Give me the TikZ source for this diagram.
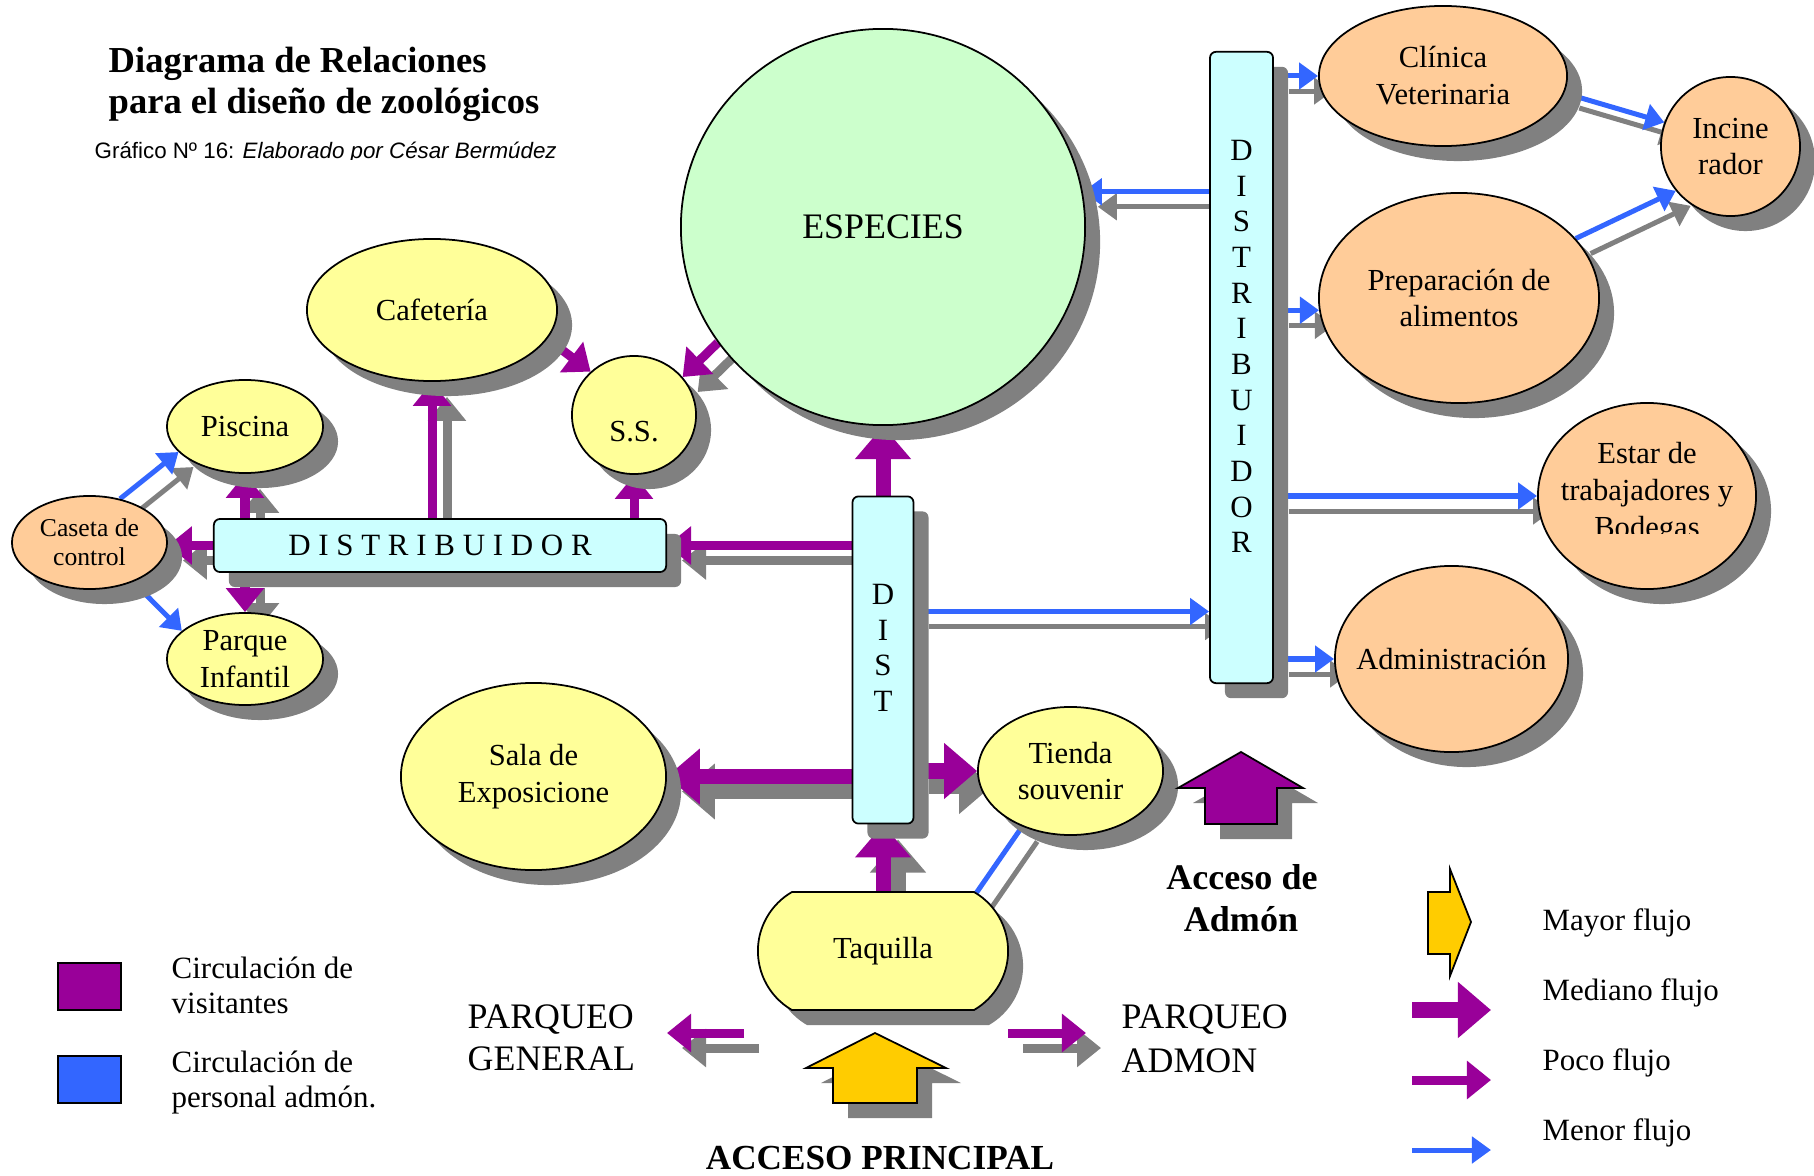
\documentclass[tikz,border=0pt]{standalone}
\usepackage{fontspec}
\setmainfont{Liberation Serif}
\newfontfamily\sansf{Liberation Sans}
\usetikzlibrary{shapes.geometric,shapes.misc,shadows,arrows.meta,calc}
\definecolor{amarillo}{HTML}{FFFF99}
\definecolor{verde}{HTML}{CCFFCC}
\definecolor{naranja}{HTML}{FFCC99}
\definecolor{celeste}{HTML}{CCFFFF}
\definecolor{visita}{HTML}{990099}
\definecolor{admon}{HTML}{3366FF}
\definecolor{gris}{HTML}{808080}
\definecolor{oro}{HTML}{FFCC00}
\pgfdeclarelayer{sombra}
\pgfdeclarelayer{flecha}
\pgfsetlayers{sombra,flecha,main}
\tikzset{
  sombreado/.style={drop shadow={shadow xshift=0.15cm,shadow yshift=-0.15cm,fill=gris,opacity=1}},
  nodo/.style={draw,line width=0.5pt,inner sep=0pt,align=center,font=\fontsize{8.7}{10.5}\selectfont,sombreado},
  zona/.style={nodo,ellipse,fill=amarillo},
  zonaadm/.style={nodo,ellipse,fill=naranja},
  caja/.style={nodo,rectangle,rounded corners=0.06cm,fill=celeste},
  texto/.style={inner sep=0pt,font=\fontsize{8.8}{10.5}\selectfont},
  titulo/.style={texto,font=\bfseries\fontsize{10.4}{12}\selectfont},
  letras/.style={texto,align=center,font=\fontsize{8.8}{10.15}\selectfont},
  mediano/.style={visita,line width=0.15cm,-{Triangle[length=0.33cm,width=0.54cm]}},
  poco/.style={visita,line width=0.09cm,-{Triangle[length=0.24cm,width=0.37cm]}},
  menor/.style={admon,line width=0.05cm,-{Triangle[length=0.19cm,width=0.26cm]}},
  linea/.style={admon,line width=0.05cm},
  sombra/.style={gris,transform canvas={xshift=0.15cm,yshift=-0.15cm}}
}
% flecha con su sombra gris
\newcommand{\flujo}[3]{%
  \begin{pgfonlayer}{sombra}\draw[#1,sombra] (#2) -- (#3);\end{pgfonlayer}%
  \begin{pgfonlayer}{flecha}\draw[#1] (#2) -- (#3);\end{pgfonlayer}}
% flecha sin sombra
\newcommand{\flecha}[3]{%
  \begin{pgfonlayer}{flecha}\draw[#1] (#2) -- (#3);\end{pgfonlayer}}
\begin{document}
\begin{tikzpicture}[x=0.01cm,y=-0.01cm]
\useasboundingbox (0,0) rectangle (1814,1176);
% titulo
\node[titulo,anchor=base west] (tit1) at (108,73) {Diagrama de Relaciones};
\node[titulo,anchor=base west] (tit2) at (108,114) {para el diseño de zoológicos};
\begin{scope}
\clip (0,120) rectangle (700,160);
\node[texto,font=\sansf\fontsize{6.35}{7.5}\selectfont,anchor=base west] (sub) at (94,159) {Gráfico Nº 16: \textit{Elaborado por César Bermúdez}};
\end{scope}
% zonas de visitantes
\node[zona,fill=verde,minimum width=4.04cm,minimum height=3.96cm,font=\fontsize{10.2}{12}\selectfont] (especies) at (883,227) {ESPECIES};
\node[zona,minimum width=2.50cm,minimum height=1.42cm] (cafe) at (432,310) {Cafetería};
\node[zona,minimum width=1.24cm,minimum height=1.18cm,text height=0.54cm] (ss) at (634,415) {S.S.};
\node[zona,minimum width=1.56cm,minimum height=0.93cm] (piscina) at (245,426.5) {Piscina};
\node[zonaadm,minimum width=1.55cm,minimum height=0.93cm,font=\fontsize{7.3}{8.3}\selectfont] (caseta) at (89.5,542.5) {Caseta de\\control};
\node[zona,minimum width=1.56cm,minimum height=0.92cm] (parque) at (245,659) {Parque\\Infantil};
\node[caja,minimum width=4.52cm,minimum height=0.53cm,font=\fontsize{8.8}{10}\selectfont] (distH) at (440,545.5) {D I S T R I B U I D O R};
\node[caja,minimum width=0.61cm,minimum height=3.27cm] (dist) at (883,660) {};
\node[letras] (distT) at (883,648) {D\\I\\S\\T};
\node[zona,minimum width=2.65cm,minimum height=1.87cm] (sala) at (533.5,776.5) {Sala de\\Exposicione};
\node[zona,minimum width=1.85cm,minimum height=1.28cm] (tienda) at (1070.5,771) {Tienda\\souvenir};
\node[nodo,rounded rectangle,rounded rectangle arc length=120,fill=amarillo,minimum width=2.50cm,minimum height=1.18cm] (taquilla) at (883,951) {Taquilla};
% zonas de servicio
\node[caja,minimum width=0.63cm,minimum height=6.31cm] (distv) at (1241.5,367.5) {};
\node[letras] (distvT) at (1241.5,346.5) {D\\I\\S\\T\\R\\I\\B\\U\\I\\D\\O\\R};
\node[zonaadm,minimum width=2.48cm,minimum height=1.40cm] (clinic) at (1443,76) {Clínica\\Veterinaria};
\node[zonaadm,minimum width=1.39cm,minimum height=1.39cm] (incin) at (1730.5,146.5) {Incine\\rador};
\node[zonaadm,minimum width=2.80cm,minimum height=2.10cm] (prep) at (1459,298) {Preparación de\\alimentos};
\node[zonaadm,minimum width=2.18cm,minimum height=1.86cm] (estar) at (1647,496) {};
\begin{scope}
\clip (1530,440) rectangle (1770,533);
\node[texto,align=center,font=\fontsize{8.7}{10.5}\selectfont] (estarT) at (1647,493) {Estar de\\trabajadores y\\Bodegas};
\end{scope}
\node[zonaadm,minimum width=2.33cm,minimum height=1.86cm,inner xsep=-0.15cm] (admin) at (1451.5,659) {Administración};
% accesos
\filldraw[fill=visita,draw=black,line width=0.5pt,sombreado] (1241,752) -- (1303,788) -- (1277,788) -- (1277,824) -- (1205,824) -- (1205,788) -- (1178,788) -- cycle;
\node[titulo,font=\bfseries\fontsize{10.25}{12}\selectfont,anchor=base] (admA) at (1242,889) {Acceso de};
\node[titulo,font=\bfseries\fontsize{10.25}{12}\selectfont,anchor=base] (admB) at (1241,931) {Admón};
\filldraw[fill=oro,draw=black,line width=0.5pt,sombreado] (875,1033) -- (946,1068) -- (917,1068) -- (917,1103) -- (833,1103) -- (833,1068) -- (806,1068) -- cycle;
\node[titulo,font=\bfseries\fontsize{10}{12}\selectfont,anchor=base] (accp) at (880,1169) {ACCESO PRINCIPAL};
\node[texto,font=\fontsize{10.2}{12}\selectfont,anchor=base west] (pgA) at (467,1028) {PARQUEO};
\node[texto,font=\fontsize{10.2}{12}\selectfont,anchor=base west] (pgB) at (467,1070) {GENERAL};
\node[texto,font=\fontsize{10.2}{12}\selectfont,anchor=base west] (paA) at (1121,1028) {PARQUEO};
\node[texto,font=\fontsize{10.2}{12}\selectfont,anchor=base west] (paB) at (1121,1072) {ADMON};
\coordinate (pg1) at (744,1033);
\coordinate (pg2) at (667,1033);
\coordinate (pa1) at (1008,1033);
\coordinate (pa2) at (1086,1033);
\coordinate (d1) at ($(dist.north east)+(0,116)$);
% circulacion de visitantes
\flecha{mediano}{dist.north}{especies.south}
\flujo{mediano}{taquilla.north}{dist.south}
\flujo{mediano}{dist.west |- sala.east}{sala.east}
\flujo{mediano}{dist.east |- tienda.west}{tienda.west}
\flujo{poco}{dist.west |- distH.east}{distH.east}
\flujo{poco}{distH.north -| cafe.south}{cafe.south}
\flecha{poco}{distH.north -| ss.south}{ss.south}
\flujo{poco}{distH.north -| piscina.south}{piscina.south}
\flujo{poco}{distH.south -| parque.north}{parque.north}
\flujo{poco}{distH.west}{caseta.east |- distH.west}
\flecha{poco}{cafe.-14}{ss.135}
\flujo{poco}{especies.215}{ss.38}
\flujo{poco}{pg1}{pg2}
\flujo{poco}{pa1}{pa2}
% circulacion de personal
\flujo{menor}{caseta.55}{piscina.201}
\flecha{menor}{caseta.-42}{parque.156}
\flujo{menor}{d1}{distv.west |- d1}
\flujo{menor}{distv.west |- especies.10}{especies.10}
\flujo{menor}{distv.east |- clinic.west}{clinic.west}
\flujo{menor}{distv.east |- prep.185}{prep.185}
\flujo{menor}{distv.east |- estar.west}{estar.west}
\flujo{menor}{distv.east |- admin.west}{admin.west}
\flujo{menor}{clinic.-8}{incin.160}
\flujo{menor}{prep.27}{incin.219}
\flujo{linea}{taquilla.32}{tienda.229}
% leyenda
\node[draw,fill=visita,minimum width=0.63cm,minimum height=0.47cm,inner sep=0pt] (cvis) at (89.5,986.5) {};
\node[draw,fill=admon,minimum width=0.63cm,minimum height=0.47cm,inner sep=0pt] (cadm) at (89.5,1079.5) {};
\node[texto,anchor=base west] (lv1) at (171,978) {Circulación de};
\node[texto,anchor=base west] (lv2) at (171,1013) {visitantes};
\node[texto,anchor=base west] (la1) at (171,1072) {Circulación de};
\node[texto,anchor=base west] (la2) at (171,1107) {personal admón.};
\filldraw[fill=oro,draw=black,line width=0.5pt] (1428,892) -- (1450,892) -- (1450,869) -- (1471,922) -- (1450,976) -- (1450,954) -- (1428,954) -- cycle;
\foreach \n/\y/\s in {med/1010/mediano,poc/1080/poco,men/1150/menor}{
  \coordinate (\n1) at (1412,\y);
  \coordinate (\n2) at (1491,\y);
  \draw[\s] (\n1) -- (\n2);
}
\foreach \n/\y/\t in {lmay/930/Mayor flujo,lmed/1000/Mediano flujo,lpoc/1070/Poco flujo,lmen/1140/Menor flujo}
  \node[texto,anchor=base west] (\n) at (1542,\y) {\t};
\end{tikzpicture}
\end{document}
